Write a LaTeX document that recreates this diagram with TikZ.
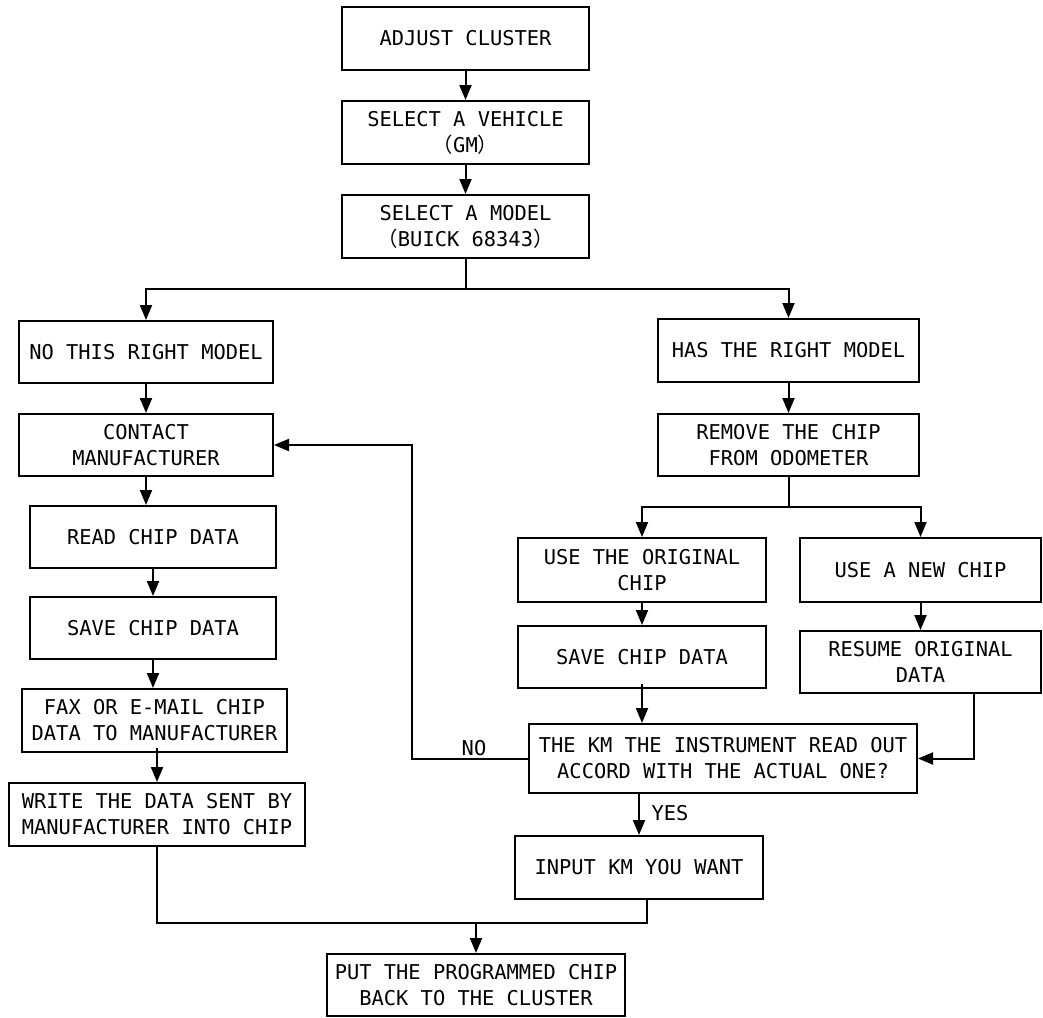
\documentclass[tikz,border=0pt]{standalone}
\usepackage{fontspec}
\setmonofont{DejaVu Sans Mono}
\newfontfamily\cjk{Noto Sans CJK SC}
\usetikzlibrary{arrows.meta}
\tikzset{
  fbox/.style={draw, line width=2pt, rectangle, align=center, inner sep=0pt,
    font=\ttfamily\fontsize{20.4}{26}\selectfont},
  lbl/.style={inner sep=0pt, font=\ttfamily\fontsize{20.4}{26}\selectfont},
  conn/.style={line width=2pt},
  arr/.style={line width=2pt, -{Triangle[length=15pt,width=12pt]}}
}
\begin{document}
\begin{tikzpicture}[x=1pt,y=-1pt]
\useasboundingbox (0,0) rectangle (1043,1017);
\fill[white] (0,0) rectangle (1043,1017);
% top column
\node[fbox, minimum width=247, minimum height=63] (adjust) at (465.5,38.5) {ADJUST CLUSTER};
\node[fbox, minimum width=247, minimum height=63] (vehicle) at (465.5,132.5) {SELECT A VEHICLE\\{\cjk （}GM{\cjk ）}};
\node[fbox, minimum width=247, minimum height=63] (model) at (465.5,226.5) {SELECT A MODEL\\{\cjk （}BUICK 68343{\cjk ）}};
% left column
\node[fbox, minimum width=254, minimum height=62] (nomodel) at (146,352) {NO THIS RIGHT MODEL};
\node[fbox, minimum width=254, minimum height=62] (contact) at (146,445) {CONTACT\\MANUFACTURER};
\node[fbox, minimum width=246, minimum height=62] (read) at (153,537) {READ CHIP DATA};
\node[fbox, minimum width=246, minimum height=62] (savel) at (153,628) {SAVE CHIP DATA};
\node[fbox, minimum width=265, minimum height=63] (fax) at (154.5,720.5) {FAX OR E-MAIL CHIP\\DATA TO MANUFACTURER};
\node[fbox, minimum width=296, minimum height=63] (write) at (157,814.5) {WRITE THE DATA SENT BY\\MANUFACTURER INTO CHIP};
% right column
\node[fbox, minimum width=261, minimum height=63] (hasmodel) at (788.5,350.5) {HAS THE RIGHT MODEL};
\node[fbox, minimum width=261, minimum height=62] (remove) at (788.5,445) {REMOVE THE CHIP\\FROM ODOMETER};
\node[fbox, minimum width=248, minimum height=64] (useorig) at (642,570) {USE THE ORIGINAL\\CHIP};
\node[fbox, minimum width=241, minimum height=64] (usenew) at (920.5,570) {USE A NEW CHIP};
\node[fbox, minimum width=248, minimum height=62] (saver) at (642,657) {SAVE CHIP DATA};
\node[fbox, minimum width=241, minimum height=62] (resume) at (920.5,662) {RESUME ORIGINAL\\DATA};
\node[fbox, minimum width=388, minimum height=69] (km) at (723,758.5) {THE KM THE INSTRUMENT READ OUT\\ACCORD WITH THE ACTUAL ONE?};
\node[fbox, minimum width=248, minimum height=63] (input) at (639,867.5) {INPUT KM YOU WANT};
\node[fbox, minimum width=298, minimum height=62] (put) at (476,985) {PUT THE PROGRAMMED CHIP\\BACK TO THE CLUSTER};
% labels
\node[lbl] (nolbl) at (474,748) {NO};
\node[lbl] (yeslbl) at (670,813) {YES};
% coordinates
\coordinate (split) at (465.5,289);
\coordinate (split2) at (788.5,507);
\coordinate (join) at (476,923);
% connectors
\draw[arr] (adjust) -- (vehicle);
\draw[arr] (vehicle) -- (model);
\draw[conn] (model) -- (split);
\draw[arr] (split) -| (nomodel);
\draw[arr] (split) -| (hasmodel);
\draw[arr] (nomodel) -- (contact);
\draw[arr] (contact.south) -- (contact.south |- read.north);
\draw[arr] (read) -- (savel);
\draw[arr] (savel.south) -- (savel.south |- fax.north);
\draw[arr] ([yshift=5pt]fax.south -| write.north) -- (write.north);
\draw[arr] (hasmodel) -- (remove);
\draw[conn] (remove) -- (split2);
\draw[arr] (split2) -| (useorig);
\draw[arr] (split2) -| (usenew);
\draw[arr] (useorig) -- (saver);
\draw[arr] (usenew) -- (resume);
\draw[arr] ([yshift=5pt]saver.south) -- (saver.south |- km.north);
\draw[arr] ([xshift=53.5pt]resume.south) |- (km.east);
\draw[arr] (km.west) -- ++(-116,0) |- (contact.east);
\draw[arr] (km.south -| input.north) -- (input.north);
\draw[conn] (write.south) |- (join);
\draw[conn] ([xshift=8pt]input.south) |- (join);
\draw[arr] (join) -- (put);
\end{tikzpicture}
\end{document}
